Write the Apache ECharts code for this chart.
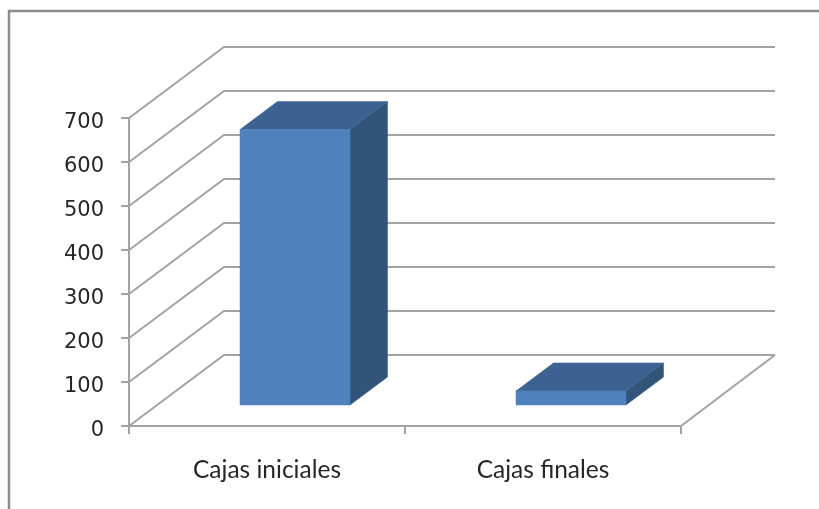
<!DOCTYPE html>
<html>
<head>
<meta charset="utf-8">
<style>html,body{margin:0;padding:0;background:#fff}#c{width:819px;height:509px}</style>
<script src="https://cdn.jsdelivr.net/npm/echarts@6/dist/echarts.min.js"></script>
</head>
<body>
<div id="c"></div>
<script>
const categories = ['Cajas iniciales', 'Cajas finales'];
const values = [626, 32];
const tickValues = [0, 100, 200, 300, 400, 500, 600, 700];

const LINE = '#a3a3a3';
const wallDx = 95, wallDy = -71, rightEdge = 775;
const floorDx = 28, floorDy = -21;
const barHalf = 55, depthDx = 37.5, depthDy = -28;

const chart = echarts.init(document.getElementById('c'), null, {renderer: 'canvas'});
chart.setOption({
  animation: false,
  backgroundColor: '#ffffff',
  graphic: [{
    type: 'polyline',
    silent: true,
    shape: {points: [[9, 509], [9, 11], [819, 11]]},
    style: {stroke: '#8c8c8c', lineWidth: 2.5, fill: null}
  }],
  grid: {left: 129, top: 118, width: 552, height: 308, containLabel: false},
  xAxis: {
    type: 'category',
    data: categories,
    boundaryGap: true,
    axisLine: {show: true, lineStyle: {color: LINE, width: 2}},
    axisTick: {show: true, length: 8, lineStyle: {color: LINE, width: 2}},
    axisLabel: {color: '#262626', fontFamily: 'Lato', fontSize: 24.5, margin: 32}
  },
  yAxis: {
    type: 'value',
    min: 0,
    max: 700,
    interval: 100,
    splitLine: {show: false},
    axisLine: {show: true, lineStyle: {color: LINE, width: 2}},
    axisTick: {show: true, length: 8, lineStyle: {color: LINE, width: 2}},
    axisLabel: {color: '#262626', fontFamily: 'DejaVu Sans', fontSize: 21, margin: 25, verticalAlign: 'top', lineHeight: 10}
  },
  series: [
    {
      type: 'custom',
      name: 'walls',
      silent: true,
      z: 1,
      data: tickValues.map(v => [0, v]),
      encode: {x: 0, y: 1},
      renderItem(params, api) {
        const x0 = params.coordSys.x;
        const y = api.coord([0, api.value(1)])[1];
        const children = [{
          type: 'polyline',
          shape: {points: [[x0, y], [x0 + wallDx, y + wallDy], [rightEdge, y + wallDy]]},
          style: {stroke: LINE, lineWidth: 2, fill: null}
        }];
        if (api.value(1) === 0) {
          const xr = x0 + params.coordSys.width;
          children.push({
            type: 'line',
            shape: {x1: xr, y1: y, x2: rightEdge, y2: y + wallDy},
            style: {stroke: LINE, lineWidth: 2}
          });
        }
        return {type: 'group', children};
      }
    },
    {
      type: 'custom',
      name: 'Cajas',
      z: 5,
      data: values.map((v, i) => [i, v]),
      encode: {x: 0, y: 1},
      renderItem(params, api) {
        const base = api.coord([api.value(0), 0]);
        const head = api.coord([api.value(0), api.value(1)]);
        const l = base[0] + floorDx - barHalf, r = base[0] + floorDx + barHalf;
        const b = base[1] + floorDy, t = head[1] + floorDy;
        const poly = (points, fill) => ({
          type: 'polygon',
          shape: {points},
          style: {fill, stroke: fill, lineWidth: 0.5}
        });
        return {type: 'group', children: [
          poly([[r, b], [r + depthDx, b + depthDy], [r + depthDx, t + depthDy], [r, t]], '#325479'),
          poly([[l, t], [r, t], [r + depthDx, t + depthDy], [l + depthDx, t + depthDy]], '#3c6291'),
          poly([[l, b], [r, b], [r, t], [l, t]], '#4f81bd')
        ]};
      }
    }
  ]
});
</script>
</body>
</html>
